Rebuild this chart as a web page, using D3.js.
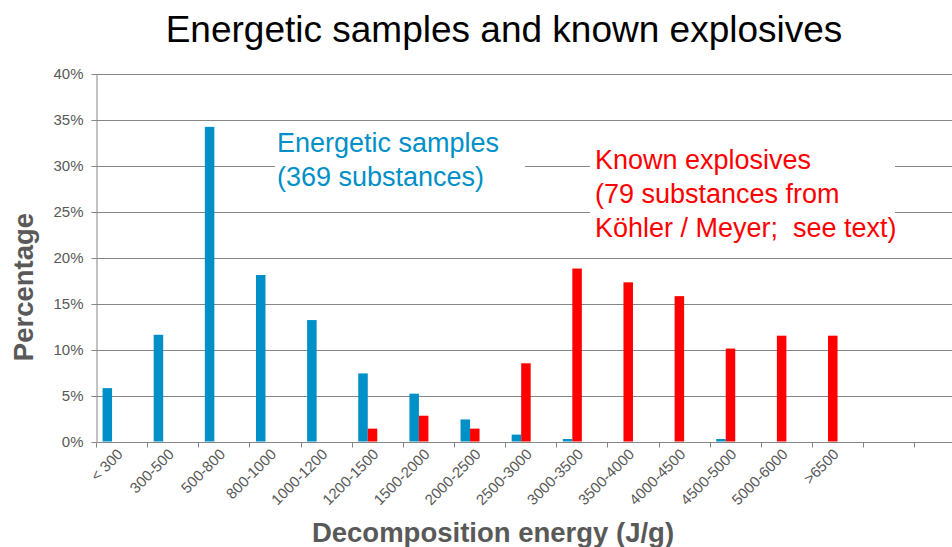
<!DOCTYPE html>
<html><head><meta charset="utf-8">
<script src="https://cdn.jsdelivr.net/npm/d3@7/dist/d3.min.js"></script>
<style>
html,body{margin:0;padding:0;background:#fff;}
svg{display:block;font-family:Arial,"Liberation Sans",sans-serif;}
</style></head>
<body>
<svg id="chart" width="952" height="547"></svg>
<script>
const categories = ["< 300","300-500","500-800","800-1000","1000-1200","1200-1500","1500-2000","2000-2500","2500-3000","3000-3500","3500-4000","4000-4500","4500-5000","5000-6000",">6500"];
const extraSlots = ["_e1","_e2"];
const samples    = [5.8, 11.6, 34.2, 18.1, 13.2, 7.4, 5.2, 2.4, 0.75, 0.27, 0, 0, 0.27, 0, 0];
const explosives = [0, 0, 0, 0, 0, 1.4, 2.8, 1.4, 8.5, 18.8, 17.3, 15.8, 10.1, 11.5, 11.5];
const yTicks = [0,5,10,15,20,25,30,35,40];
const seriesKeys = ["samples","explosives","_s3","_s4"];
const colors = {samples:"#0090c8", explosives:"#ff0000"};

(function(){
const svg = d3.select("#chart");
const pLeft = 96, pBottom = 441.5, pTop = 73.5;
const band = 51.14;

const x = d3.scaleBand().domain(categories.concat(extraSlots))
  .range([pLeft, pLeft + band*(categories.length+extraSlots.length)]).paddingInner(0).paddingOuter(0);
const x1 = d3.scaleBand().domain(seriesKeys).range([0, x.bandwidth()]).paddingInner(0).paddingOuter(0.69);
const y = d3.scaleLinear().domain([0,40]).range([pBottom, pTop]);

// gridlines
svg.append("g").selectAll("line").data(yTicks.filter(d=>d>0)).join("line")
  .attr("x1", pLeft).attr("x2", 952).attr("y1", d=>Math.round(y(d))+0.5).attr("y2", d=>Math.round(y(d))+0.5)
  .attr("stroke","#868686").attr("stroke-width",1);

// annotation boxes (white backgrounds)
svg.append("rect").attr("x",275).attr("y",128).attr("width",250).attr("height",70).attr("fill","#fff");
svg.append("rect").attr("x",590).attr("y",142).attr("width",305).attr("height",104).attr("fill","#fff");

// bars
const rows = categories.map((c,i)=>({cat:c, samples:samples[i], explosives:explosives[i]}));
const g = svg.append("g");
g.selectAll("g").data(rows).join("g")
  .attr("transform", d=>`translate(${x(d.cat)},0)`)
  .selectAll("rect").data(d=>["samples","explosives"].filter(k=>d[k]>0).map(k=>({key:k, v:d[k]})))
  .join("rect")
  .attr("x", d=>x1(d.key)).attr("width", x1.bandwidth())
  .attr("y", d=>y(d.v)).attr("height", d=>pBottom - y(d.v))
  .attr("fill", d=>colors[d.key]);

// y axis
const yAxis = d3.axisLeft(y).tickValues(yTicks).tickFormat(d=>d+"%").tickSize(5).tickSizeOuter(0);
const ya = svg.append("g").attr("transform",`translate(${pLeft+0.5},0.5)`).call(yAxis);
ya.select(".domain").attr("stroke","#868686");
ya.selectAll(".tick line").attr("stroke","#868686");
ya.selectAll(".tick text").attr("fill","#595959").style("font-size","15px").attr("x",-13).attr("font-family","Arial, 'Liberation Sans', sans-serif");

// x axis
const xa = svg.append("g").attr("transform",`translate(0.5,${Math.round(pBottom)+0.5})`);
xa.append("line").attr("x1",pLeft).attr("x2",952).attr("stroke","#868686");
xa.selectAll("line.tk").data(x.domain().concat(["_end"])).join("line").attr("class","tk")
  .attr("x1", (d,i)=>Math.round(pLeft + i*band)).attr("x2",(d,i)=>Math.round(pLeft + i*band))
  .attr("y1",0).attr("y2",5).attr("stroke","#868686");
xa.selectAll("text").data(categories).join("text")
  .attr("transform", d=>`translate(${x(d)+x.bandwidth()/2-2},${9}) rotate(-45)`)
  .attr("text-anchor","end").attr("dy","0.35em")
  .attr("fill","#595959").style("font-size","15px").text(d=>d);

// titles
svg.append("text").attr("x",504).attr("y",42).attr("text-anchor","middle")
  .style("font-size","37px").attr("fill","#000").text("Energetic samples and known explosives");
svg.append("text").attr("x",493).attr("y",542).attr("text-anchor","middle")
  .style("font-size","27.5px").style("font-weight","bold").attr("fill","#595959").text("Decomposition energy (J/g)");
svg.append("text").attr("transform","translate(33,287) rotate(-90)").attr("text-anchor","middle")
  .style("font-size","27.5px").style("font-weight","bold").attr("fill","#595959").text("Percentage");

// annotations
const blueLines = ["Energetic samples","(369 substances)"];
svg.append("g").selectAll("text").data(blueLines).join("text")
  .attr("x",277).attr("y",(d,i)=>152+i*34).style("font-size","27px").attr("fill",colors.samples).text(d=>d);
const redLines = ["Known explosives","(79 substances from","Köhler / Meyer;  see text)"];
svg.append("g").selectAll("text").data(redLines).join("text")
  .attr("x",595).attr("y",(d,i)=>169+i*34).style("font-size","27px").attr("fill",colors.explosives)
  .style("white-space","pre").text(d=>d);
})();
</script>
</body></html>
